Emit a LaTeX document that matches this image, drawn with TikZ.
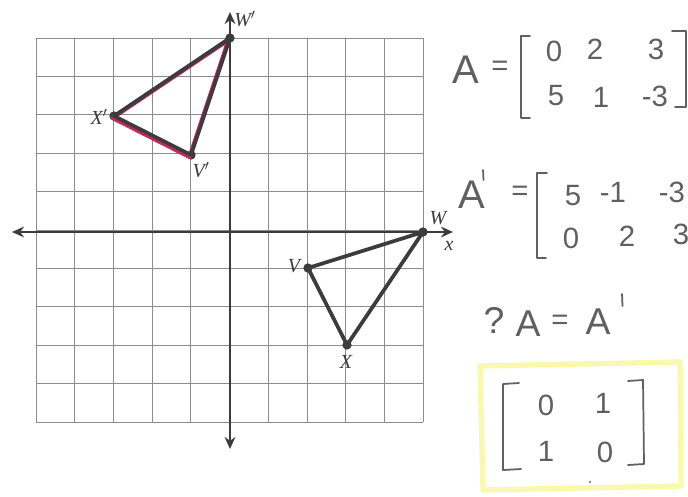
\documentclass[tikz,border=0pt]{standalone}
\usepackage{fontspec}
\setmainfont{Liberation Serif}
\newfontfamily\hand{Liberation Sans}
\usetikzlibrary{arrows.meta}
\definecolor{ink}{RGB}{60,60,64}
\definecolor{pencil}{RGB}{95,95,100}
\definecolor{rose}{RGB}{200,40,90}
\definecolor{hl}{RGB}{250,248,175}
\begin{document}
\begin{tikzpicture}[x=0.75pt,y=-0.75pt,
  gridline/.style={draw=black!45,line width=0.5pt},
  axis/.style={draw=ink,line width=1.5pt,{Stealth[length=9pt,width=8pt]}-{Stealth[length=9pt,width=8pt]}},
  dot/.style={circle,fill=ink,inner sep=0pt,minimum size=7pt},
  tri/.style={draw=ink,line width=2.8pt,line join=round},
  pinktri/.style={draw=rose,line width=3pt,line join=round},
  lab/.style={font=\fontsize{15}{15}\selectfont\itshape,text=ink,inner sep=0pt},
  hw/.style={font=\hand\fontsize{22}{22}\selectfont,text=pencil,inner sep=0pt},
  bigA/.style={font=\hand\fontsize{30}{30}\selectfont,text=pencil,inner sep=0pt},
  brk/.style={draw=pencil,line width=1.3pt,line cap=round,line join=round}]
\fill[white] (0,0) rectangle (688,496);
\useasboundingbox (0,0) rectangle (688,496);
% grid
\foreach \i in {0,...,10}{
  \draw[gridline] ({36+38.7*\i},38) -- ({36+38.7*\i},422);
  \draw[gridline] (36,{38+38.4*\i}) -- (423,{38+38.4*\i});
}
% axes
\coordinate (xl) at (12,232); \coordinate (xr) at (453,232);
\coordinate (yt) at (230,12); \coordinate (yb) at (230,449);
\draw[axis] (xl) -- (xr);
\draw[axis] (yt) -- (yb);
% points
\node[dot] (Wp) at (230,38) {};
\node[dot] (Xp) at (114,116) {};
\node[dot] (Vp) at (191,155) {};
\node[dot] (W) at (423,232) {};
\node[dot] (V) at (308,268) {};
\node[dot] (X) at (347,345) {};
% image triangle with pink tracing
\draw[pinktri] ([shift={(-1.5,2)}]Wp.center) -- ([shift={(-1.5,2)}]Xp.center) -- ([shift={(-1.5,2)}]Vp.center) -- cycle;
\draw[tri] (Wp.center) -- (Xp.center) -- (Vp.center) -- cycle;
\draw[tri] (W.center) -- (V.center) -- (X.center) -- cycle;
% labels
\node[lab] (lWp) at (245,19) {W$'$};
\node[lab] (lXp) at (99,117) {X$'$};
\node[lab] (lVp) at (201,170) {V$'$};
\node[lab] (lW) at (438,218) {W};
\node[lab] (lx) at (449,246) {x};
\node[lab] (lV) at (294,266) {V};
\node[lab] (lX) at (346,362) {X};
% matrix A
\node[bigA] (A1) at (466,70) {A};
\node[hw] (eq1) at (500,68) {=};
\draw[brk] (530,36) -- (521,36) -- (521,118) -- (530,118);
\draw[brk] (672,31) -- (686,31) -- (686,107) -- (675,107);
\node[hw] (a11) at (554,51) {0};
\node[hw] (a12) at (595,49) {2};
\node[hw] (a13) at (656,49) {3};
\node[hw] (a21) at (556,96) {5};
\node[hw] (a22) at (601,97) {1};
\node[hw] (a23) at (655,96) {-3};
% matrix A'
\node[bigA] (A2) at (472,195) {A};
\draw[brk] (483,170) -- (483.5,180);
\node[hw] (eq2) at (520,193) {=};
\draw[brk] (547,173) -- (537,173) -- (537,258) -- (546,258);
\node[hw] (b11) at (573,196) {5};
\node[hw] (b12) at (613,192) {-1};
\node[hw] (b13) at (672,192) {-3};
\node[hw] (b21) at (571,238) {0};
\node[hw] (b22) at (627,236) {2};
\node[hw] (b23) at (681,234) {3};
% ? A = A'
\node[hw,font=\hand\fontsize{28}{28}\selectfont] (q) at (494,320) {?};
\node[hw,font=\hand\fontsize{28}{28}\selectfont] (A3) at (528,324) {A};
\node[hw] (eq3) at (560,322) {=};
\node[hw,font=\hand\fontsize{28}{28}\selectfont] (A4) at (598,322) {A};
\draw[brk] (622,294) -- (622.5,306);
% highlighted answer
\draw[draw=hl,line width=4pt,line join=round] (480,366) -- (680,362) -- (681,486) -- (483,490) -- cycle;
\draw[brk] (519,383) -- (503,384) -- (503,470) -- (521,469);
\draw[brk] (628,381) -- (643,380) -- (644,464) -- (628,465);
\node[hw] (c11) at (546,405) {0};
\node[hw] (c12) at (603,403) {1};
\node[hw] (c21) at (546,451) {1};
\node[hw] (c22) at (605,452) {0};
\fill[pencil] (590,482) circle (1.2);
\end{tikzpicture}
\end{document}
